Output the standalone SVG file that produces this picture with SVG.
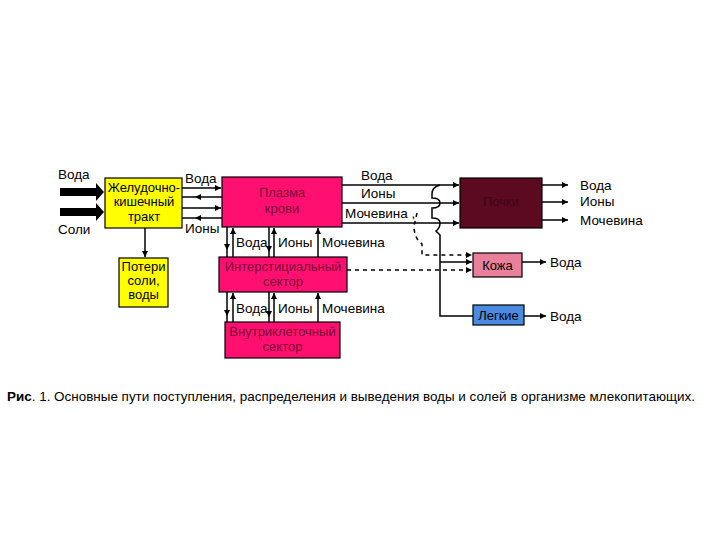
<svg xmlns="http://www.w3.org/2000/svg" width="720" height="540" viewBox="0 0 720 540">
<defs>
<marker id="ah" markerUnits="userSpaceOnUse" markerWidth="7" markerHeight="7" refX="6" refY="3" orient="auto"><path d="M0,0 L6,3 L0,6 z" fill="#000"/></marker>
<style>
text{font-family:"Liberation Sans",Arial,sans-serif;fill:#000}
.l{font-size:13.5px}
.b{font-size:13px;text-anchor:middle}
.dim{fill:#7a0636}
.ln{stroke:#000;stroke-width:1.5;fill:none}
.a{marker-end:url(#ah)}
.m{marker-mid:url(#ah)}
.d{stroke-dasharray:4,4}
.box{stroke:#000;stroke-width:1.2}
.pink{fill:#ff1070}
</style>
</defs>
<rect width="720" height="540" fill="#fff"/>

<g id="input-arrows">
<polygon points="60,188 96,188 96,183 104,192 96,201 96,196 60,196" fill="#000"/>
<polygon points="60,208 96,208 96,203 104,212 96,221 96,216 60,216" fill="#000"/>
<text class="l" x="58" y="179">Вода</text>
<text class="l" x="58" y="234">Соли</text>
</g>

<g id="gi">
<rect class="box" x="105" y="178" width="77" height="50" fill="#ffff00"/>
<text class="b" x="144" y="192">Желудочно-</text>
<text class="b" x="144" y="206">кишечный</text>
<text class="b" x="144" y="221">тракт</text>
</g>

<g id="loss">
<rect class="box" x="119" y="258" width="49" height="49" fill="#ffff00"/>
<text class="b" x="143.5" y="271">Потери</text>
<text class="b" x="143.5" y="285">соли,</text>
<text class="b" x="143.5" y="299">воды</text>
</g>

<g id="plasma">
<rect class="box pink" x="222" y="177" width="120" height="50"/>
<text class="b dim" x="282" y="197">Плазма</text>
<text class="b dim" x="282" y="213">крови</text>
</g>

<g id="interstitial">
<rect class="box pink" x="219" y="257" width="128" height="35"/>
<text class="b dim" x="283" y="271">Интерстициальный</text>
<text class="b dim" x="283" y="286">сектор</text>
</g>

<g id="intracellular">
<rect class="box pink" x="225" y="322" width="115" height="36"/>
<text class="b dim" x="282.5" y="336">Внутриклеточный</text>
<text class="b dim" x="282.5" y="351">сектор</text>
</g>

<g id="kidney">
<rect class="box" x="460" y="178" width="82" height="50" fill="#5c0a20"/>
<text class="b" x="501" y="206" fill="#3a0010" style="fill:#3d0514">Почки</text>
</g>

<g id="skin">
<rect class="box" x="473" y="253" width="49" height="24" fill="#e8809c"/>
<text class="b" x="497.5" y="270">Кожа</text>
</g>

<g id="lungs">
<rect class="box" x="473" y="305" width="51" height="20" fill="#4a8ae0"/>
<text class="b" x="498.5" y="320">Легкие</text>
</g>

<g id="connectors">
<path class="ln" d="M145,228 V257" marker-end="url(#ah)"/>
<path class="ln a" d="M182,188 H221"/>
<path class="ln m" d="M222,197 H195 H182"/>
<path class="ln a" d="M182,208 H221"/>
<path class="ln m" d="M222,218 H195 H182"/>

<path class="ln m" d="M227,227 V250 V257"/>
<path class="ln a" d="M233,257 V228"/>
<path class="ln m" d="M269,227 V252 V257"/>
<path class="ln a" d="M274,257 V228"/>
<path class="ln a" d="M318,257 V228"/>

<path class="ln m" d="M227,292 V316 V322"/>
<path class="ln a" d="M233,322 V293"/>
<path class="ln m" d="M269,292 V317 V322"/>
<path class="ln a" d="M274,322 V293"/>
<path class="ln a" d="M318,322 V293"/>

<path class="ln a" d="M342,185 H459"/>
<path class="ln a" d="M342,203 H459"/>
<path class="ln a" d="M342,223 H459"/>

<path class="ln a" d="M542,185 H568"/>
<path class="ln a" d="M542,202 H568"/>
<path class="ln a" d="M542,220 H568"/>

<path class="ln" d="M440,185 Q432,187 432,194 V198 Q440,198 440,203 Q440,208 432,208 V218 Q440,218 440,223 Q440,228 436,231 L440,235 V316 H473"/>
<path class="ln a" d="M440,262 H472"/>
<path class="ln d a" d="M417,213 L414,226 Q414,238 422,244 V255 H472"/>
<path class="ln d a" d="M347,270 H472"/>

<path class="ln a" d="M522,262 H546"/>
<path class="ln a" d="M524,316 H546"/>
</g>

<g id="labels">
<text class="l" x="185" y="183">Вода</text>
<text class="l" x="185" y="233">Ионы</text>
<text class="l" x="236" y="247">Вода</text>
<text class="l" x="278" y="247">Ионы</text>
<text class="l" x="322" y="247">Мочевина</text>
<text class="l" x="236" y="313">Вода</text>
<text class="l" x="278" y="313">Ионы</text>
<text class="l" x="322" y="313">Мочевина</text>
<text class="l" x="361" y="180">Вода</text>
<text class="l" x="361" y="198">Ионы</text>
<text class="l" x="345" y="218">Мочевина ,</text>
<text class="l" x="580" y="190">Вода</text>
<text class="l" x="580" y="206">Ионы</text>
<text class="l" x="580" y="225">Мочевина</text>
<text class="l" x="550" y="267">Вода</text>
<text class="l" x="550" y="321">Вода</text>
</g>

<text x="7" y="401" font-size="13" textLength="688" lengthAdjust="spacingAndGlyphs"><tspan font-weight="bold">Рис</tspan>. 1. Основные пути поступления, распределения и выведения воды и солей в организме млекопитающих.</text>
</svg>
